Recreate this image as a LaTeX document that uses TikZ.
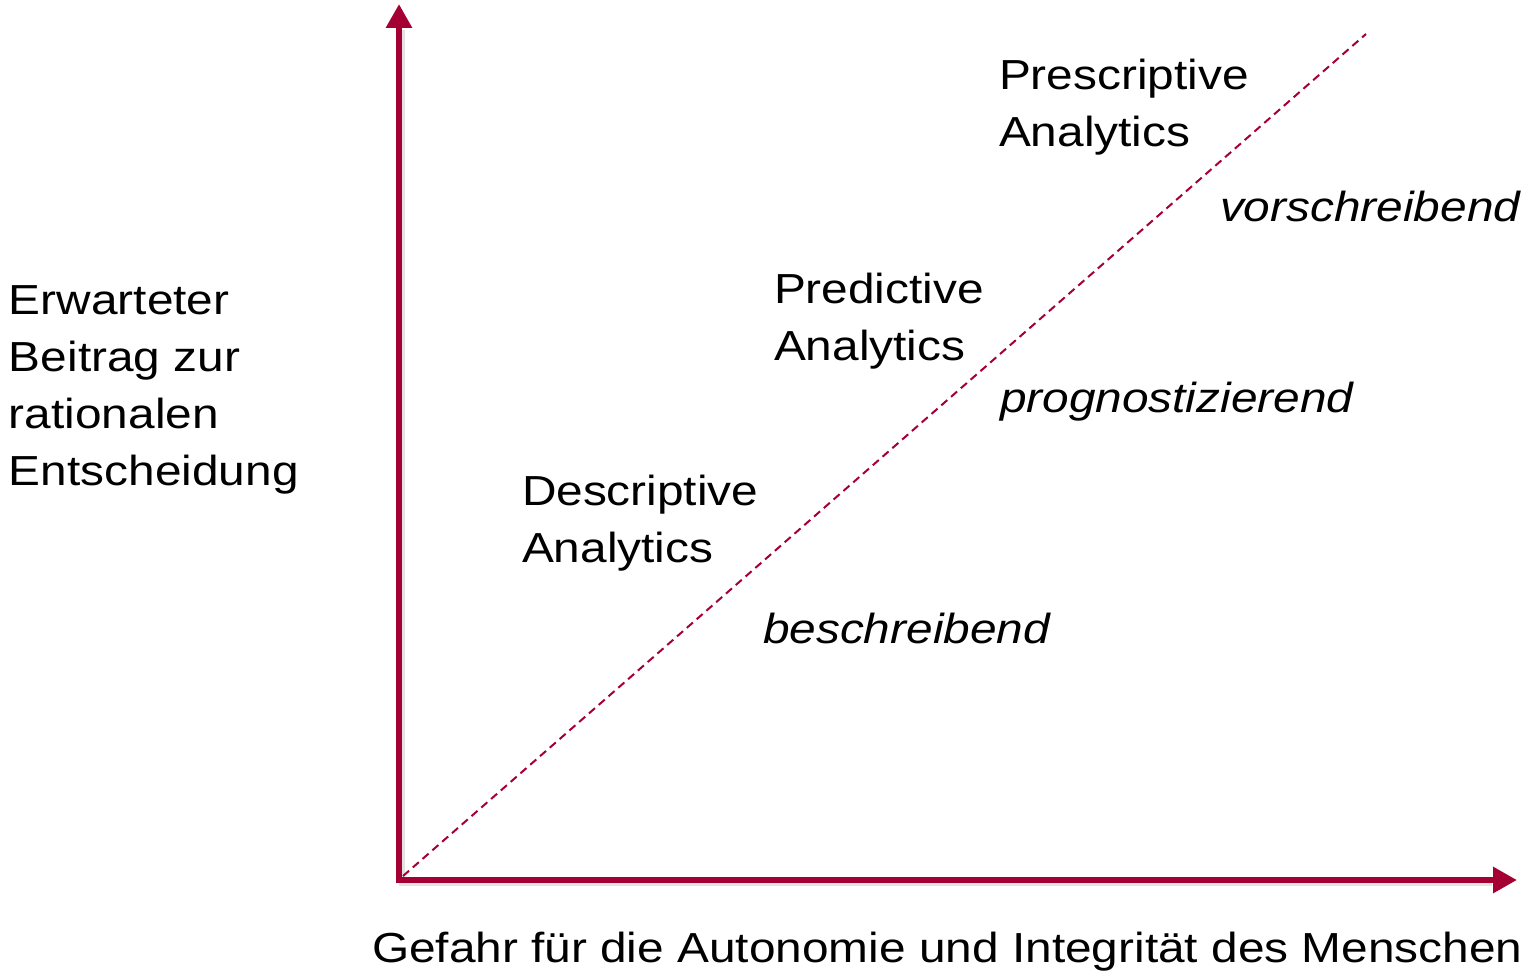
\documentclass[tikz,border=0pt]{standalone}
\usepackage{fontspec}
\setmainfont{Liberation Sans}[FakeStretch=1.138]
\usetikzlibrary{arrows.meta}
\definecolor{axisred}{HTML}{A50034}
\begin{document}
\begin{tikzpicture}[x=1pt,y=-1pt,
  lbl/.style={inner sep=0pt, outer sep=0pt, anchor=base west, align=left,
    font=\fontsize{42pt}{57pt}\selectfont},
  ilbl/.style={lbl, font=\fontsize{42pt}{57pt}\selectfont\itshape},
  axis/.style={draw=axisred, line width=6pt, line join=miter,
    {Triangle[length=24pt,width=25pt]}-{Triangle[length=24pt,width=25pt]}},
  axshadow/.style={draw=black!18, line width=6pt, line join=miter, opacity=0.6},
  diag/.style={draw=axisred, line width=2pt, dash pattern=on 8pt off 5pt}]
\useasboundingbox (0,0) rectangle (1530,976);
\coordinate (ytip) at (399,4);
\coordinate (orig) at (399,880);
\coordinate (xtip) at (1517,880);
\coordinate (dstart) at (403,876);
\coordinate (dend) at (1366,34);
% shadow
\draw[axshadow] (402,30) -- (402,883) -- (1492,883);
\draw[axis] (ytip) -- (orig) -- (xtip);
\draw[diag] (dstart) -- (dend);
% multi-line nodes: base anchor is the baseline of the last line
\node[lbl] (ylab) at (9,485) {Erwarteter\\Beitrag zur\\rationalen\\Entscheidung};
\node[lbl] (xlab) at (372,962) {Gefahr für die Autonomie und Integrität des Menschen};
\node[lbl] (pres) at (999,147) {Prescriptive\\Analytics};
\node[ilbl] (vors) at (1220,222) {vorschreibend};
\node[lbl] (pred) at (774,360) {Predictive\\Analytics};
\node[ilbl] (prog) at (1000,412) {prognostizierend};
\node[lbl] (desc) at (522,562) {Descriptive\\Analytics};
\node[ilbl] (besc) at (763,643) {beschreibend};
\end{tikzpicture}
\end{document}
